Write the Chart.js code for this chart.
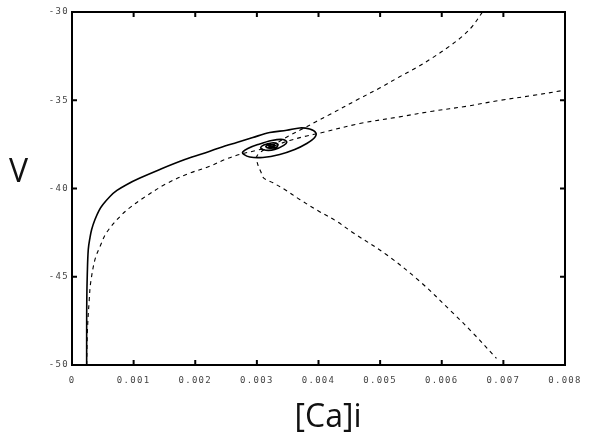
<!DOCTYPE html>
<html>
<head>
<meta charset="utf-8">
<script src="https://cdn.jsdelivr.net/npm/chart.js@4"></script>
<style>
html,body{margin:0;padding:0;background:#fff;}
#wrap{width:590px;height:442px;}
</style>
</head>
<body>
<div id="wrap"><canvas id="c" width="590" height="442"></canvas></div>
<script>
// ---- data ----
const xTicks = [0, 0.001, 0.002, 0.003, 0.004, 0.005, 0.006, 0.007, 0.008];
const yTicks = [-50, -45, -40, -35, -30];
const xTitle = '[Ca]i';
const yTitle = 'V';

// solid trajectory spiralling into the equilibrium
const trajCa = [0.000238,0.000238,0.00024,0.000248,0.000264,0.000292,0.000319,0.000373,0.000438,0.000502,0.000616,0.000729,0.000891,0.001102,0.001426,0.001831,0.002237,0.002399,0.002674,0.002934,0.003209,0.003485,
 0.003695,0.003857,0.003955,0.003938,0.003809,0.003614,0.003371,0.003096,0.002885,0.002788,0.002771,
 0.002853,0.003015,0.003241,0.00342,0.003485,0.003436,0.00329,0.003144,0.003063,0.003112,0.003241,0.003339,0.003323,0.003209,0.003144,0.003209,0.00329,0.003241,0.003193,0.003241];
const trajV = [-50,-47.99,-46.29,-44.87,-43.46,-42.78,-42.32,-41.76,-41.25,-40.91,-40.45,-40.11,-39.77,-39.41,-38.92,-38.36,-37.89,-37.69,-37.39,-37.11,-36.83,-36.70,
 -36.57,-36.63,-36.83,-37.11,-37.45,-37.79,-38.07,-38.24,-38.22,-38.07,-37.93,
 -37.73,-37.51,-37.28,-37.22,-37.37,-37.56,-37.79,-37.83,-37.71,-37.54,-37.42,-37.48,-37.65,-37.71,-37.62,-37.51,-37.56,-37.65,-37.59,-37.56];

// dashed curve from lower left through equilibrium to the right edge
const dashACa = [0.000238,0.000251,0.00028,0.000303,0.000373,0.000454,0.000562,0.000778,0.00094,0.001151,0.001535,0.001912,0.002237,0.00248,0.002723,0.002982,0.003241,0.003533,0.003776,0.004047,0.004668,0.005316,0.005851,0.006402,0.006937,0.007472,0.008];
const dashAV  = [-50,-47.99,-46.29,-45.33,-44.02,-43.29,-42.49,-41.59,-41.08,-40.55,-39.72,-39.13,-38.74,-38.36,-38.07,-37.85,-37.62,-37.28,-37.05,-36.84,-36.32,-35.94,-35.62,-35.34,-35.01,-34.73,-34.43];

// dashed curve from equilibrium up to the top edge
const dashBCa = [0.003241,0.003501,0.003744,0.003966,0.004182,0.004635,0.004992,0.005316,0.005586,0.005851,0.006126,0.006337,0.006499,0.006661];
const dashBV  = [-37.62,-37.05,-36.62,-36.2,-35.81,-34.96,-34.31,-33.67,-33.16,-32.59,-31.94,-31.37,-30.8,-30];

// dashed curve from equilibrium down to the bottom
const dashCCa = [0.003241,0.003096,0.002998,0.003015,0.003063,0.003112,0.003263,0.003452,0.003695,0.003987,0.00429,0.004554,0.0051,0.00564,0.006175,0.006499,0.006888];
const dashCV  = [-37.62,-37.85,-38.19,-38.64,-39.04,-39.41,-39.68,-40.06,-40.62,-41.25,-41.85,-42.49,-43.74,-45.25,-47.03,-48.16,-49.63];

const pts = (xs, ys) => xs.map((v, i) => ({x: v, y: ys[i]}));

const framePlugin = {
  id: 'frame',
  beforeDraw(chart) {
    chart.ctx.letterSpacing = '1.3px';
  },
  afterDraw(chart) {
    const {ctx, chartArea: {left, top, right, bottom}, scales: {x, y}} = chart;
    ctx.save();
    ctx.letterSpacing = '0px';
    ctx.strokeStyle = '#000';
    ctx.lineWidth = 2;
    ctx.strokeRect(left, top, right - left, bottom - top);
    ctx.beginPath();
    const L = 5;
    xTicks.forEach(v => {
      const p = x.getPixelForValue(v);
      ctx.moveTo(p, bottom); ctx.lineTo(p, bottom - L);
      ctx.moveTo(p, top); ctx.lineTo(p, top + L);
    });
    yTicks.forEach(v => {
      const p = y.getPixelForValue(v);
      ctx.moveTo(left, p); ctx.lineTo(left + L, p);
      ctx.moveTo(right, p); ctx.lineTo(right - L, p);
    });
    ctx.stroke();
    ctx.fillStyle = '#111';
    ctx.font = '32px "Open Sans"';
    ctx.textBaseline = 'alphabetic';
    ctx.textAlign = 'center';
    ctx.fillText(xTitle, 328, 426.5);
    ctx.fillText(yTitle, 18.5, 181.5);
    ctx.restore();
  }
};

const lineDs = (data, dashed) => ({
  data,
  showLine: true,
  borderColor: '#000',
  borderWidth: dashed ? 1.1 : 1.6,
  borderDash: dashed ? [4, 4] : [],
  pointRadius: 0,
  tension: 0.35,
  fill: false,
});

new Chart(document.getElementById('c'), {
  type: 'scatter',
  data: {
    datasets: [
      lineDs(pts(trajCa, trajV), false),
      lineDs(pts(dashACa, dashAV), true),
      lineDs(pts(dashBCa, dashBV), true),
      lineDs(pts(dashCCa, dashCV), true),
    ]
  },
  plugins: [framePlugin],
  options: {
    responsive: false,
    animation: false,
    devicePixelRatio: 1,
    layout: {padding: {top: 12, right: 25, left: 0, bottom: 0}},
    plugins: {legend: {display: false}, tooltip: {enabled: false}},
    scales: {
      x: {
        type: 'linear', min: 0, max: 0.008,
        afterBuildTicks(s) { s.ticks = xTicks.map(v => ({value: v})); },
        afterFit(s) { s.height = 77; },
        grid: {display: false, drawTicks: false},
        border: {display: false},
        ticks: {
          padding: 10, color: '#444', maxRotation: 0, autoSkip: false,
          font: {family: '"DejaVu Sans Mono"', size: 9},
          callback: v => String(v)
        }
      },
      y: {
        type: 'linear', min: -50, max: -30,
        afterBuildTicks(s) { s.ticks = yTicks.map(v => ({value: v})); },
        afterFit(s) { s.width = 72; },
        grid: {display: false, drawTicks: false},
        border: {display: false},
        ticks: {
          padding: 3, color: '#444', autoSkip: false,
          font: {family: '"DejaVu Sans Mono"', size: 9},
          callback: v => String(v)
        }
      }
    }
  }
});
</script>
</body>
</html>
